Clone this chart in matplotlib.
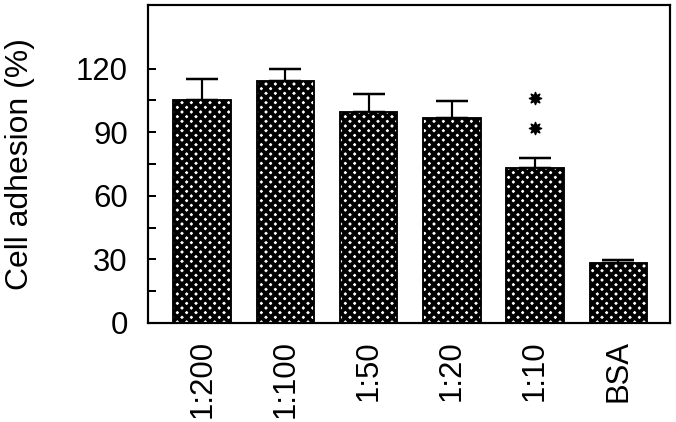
import numpy as np
import matplotlib
matplotlib.use("Agg")
import matplotlib.pyplot as plt

# values
categories = ["1:200", "1:100", "1:50", "1:20", "1:10", "BSA"]
adhesion = [105, 114, 99.5, 96.5, 73, 28.5]
err_upper = [10, 6, 8.5, 8, 5, 1.3]
sig_x = [4, 4]
sig_y = [92, 106]

DPI = 112
plt.rcParams['font.family'] = ['Liberation Sans', 'DejaVu Sans']
plt.rcParams['hatch.linewidth'] = 2.5

fig = plt.figure(figsize=(676 / DPI, 422 / DPI), dpi=DPI)
ax = fig.add_axes([0.219, 0.2346, 0.772, 0.7535])

x = np.arange(len(categories))
width = 0.69

# thick black cross hatch on white leaves the white dot pattern
ax.bar(x, adhesion, width=width, color='white', edgecolor='black',
       linewidth=1.2, hatch='xxxx', zorder=2)
ax.errorbar(x, adhesion, yerr=[np.zeros(len(x)), err_upper], fmt='none',
            ecolor='black', elinewidth=1.4, capsize=10, capthick=1.6, zorder=1)

ax.scatter(sig_x, sig_y, marker=(8, 1, 0), s=60, color='black', zorder=4)

ax.set_xlim(-0.65, 5.62)
ax.set_ylim(0, 150)
ax.set_yticks([0, 30, 60, 90, 120])
ax.set_yticks([15, 45, 75, 105], minor=True)
ax.set_xticks(x)
ax.set_xticklabels(categories, rotation=90, fontsize=20)
ax.tick_params(axis='x', length=0, pad=11)
ax.tick_params(axis='y', which='both', direction='in', length=5, width=1.3,
               labelsize=20, pad=13)
ax.set_ylabel("Cell adhesion (%)", fontsize=20.5, labelpad=26)

for s in ax.spines.values():
    s.set_linewidth(1.4)

fig.savefig("out.png", dpi=DPI)
